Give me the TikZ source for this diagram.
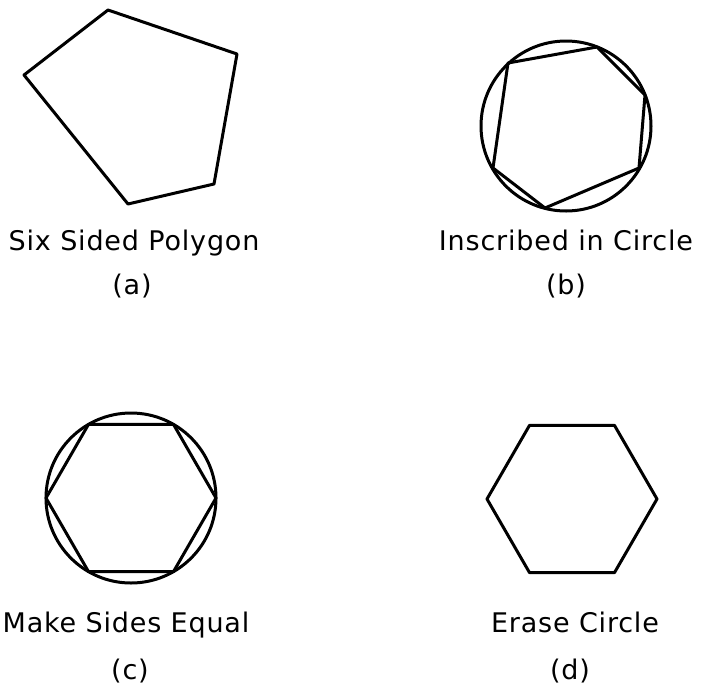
\documentclass[tikz,border=0pt]{standalone}
\usepackage{fontspec}
\setmainfont{DejaVu Sans}[LetterSpace=3]
\usetikzlibrary{positioning}
\begin{document}
\begin{tikzpicture}[
        x=1pt, y=-1pt,
        outline/.style={
            line width=3pt,
            line join=round
        },
        caption/.style={
            font=\fontsize{27}{31}\selectfont,
            inner sep=0pt,
            anchor=base
        },
        node distance=20pt
    ]
    \useasboundingbox (0,0) rectangle (702,697);

    % (a) the first guess
    \draw[outline] (108,10) -- (237,54) -- (214,184) -- (128,204) -- (24,75) -- cycle;
    \node[caption] (capa) at (134,250) {Six Sided Polygon};
    \node[caption] (laba) at (132,294) {(a)};

    % (b) corners moved onto the circle
    \draw[outline] (566,126) circle (85);
    \draw[outline] (508,63) -- (597,47) -- (645,95) -- (639,168) -- (545,208) -- (493,168) -- cycle;
    \node[caption] (capb) at (566,250) {Inscribed in Circle};
    \node[caption] (labb) at (566,294) {(b)};

    % (c) regular hexagon in the circle
    \draw[outline] (131,498) circle (85);
    \draw[outline] (216,498) -- (173.5,424.4) -- (88.5,424.4) -- (46,498) -- (88.5,571.6) -- (173.5,571.6) -- cycle;
    \node[caption] (capc) at (126,632) {Make Sides Equal};
    \node[caption] (labc) at (130,679) {(c)};

    % (d) circle gone
    \draw[outline] (657,499) -- (614.5,425.4) -- (529.5,425.4) -- (487,499) -- (529.5,572.6) -- (614.5,572.6) -- cycle;
    \node[caption] (capd) at (575,632) {Erase Circle};
    \node[caption] (labd) at (570,679) {(d)};

\end{tikzpicture}
\end{document}
